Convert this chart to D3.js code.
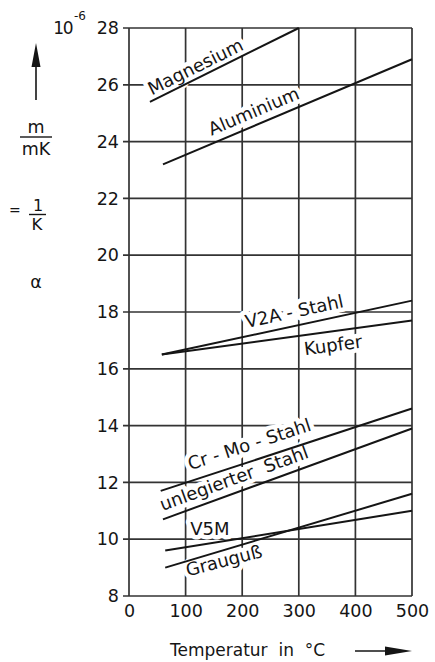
<!DOCTYPE html>
<html>
<head>
<meta charset="utf-8">
<script src="https://cdn.jsdelivr.net/npm/d3@7"></script>
<style>
  html, body { margin: 0; padding: 0; background: #fff; }
  svg { display: block; font-family: "DejaVu Sans", sans-serif; }
</style>
</head>
<body>
<svg id="chart" width="435" height="662"></svg>
<script>
// Linear expansion coefficient α (10^-6 1/K) versus temperature (°C)
const materials  = ["Magnesium", "Aluminium", "V2A - Stahl", "Kupfer", "Cr - Mo - Stahl", "unlegierter  Stahl", "V5M", "Grauguß"];
const tempStart  = [37, 60, 58, 58, 56, 60, 64, 64];
const tempEnd    = [300, 500, 500, 500, 500, 500, 500, 500];
const alphaStart = [25.4, 23.2, 16.5, 16.5, 11.7, 10.7, 9.6, 9.0];
const alphaEnd   = [28.0, 26.9, 18.4, 17.7, 14.6, 13.9, 11.0, 11.6];

const xTicks = [0, 100, 200, 300, 400, 500];
const yTicks = [8, 10, 12, 14, 16, 18, 20, 22, 24, 26, 28];

// label placement along each curve: temperature of anchor, perpendicular offset (px), angle override
const labelPlacement = [
  { t: 44,  off: -5 },
  { t: 151, off: -7.5 },
  { t: 211, off: -8 },
  { t: 306, off: 20 },
  { t: 114, off: -10.5 },
  { t: 64,  off: -8 },
  { t: 108, off: -12, angle: 0 },
  { t: 97,  off: 15, dAngle: 2 }
];

const svg = d3.select("#chart");
const ink = "#151515";
const gridInk = "#333333";

const x = d3.scaleLinear().domain([0, 500]).range([129, 412]);
const y = d3.scaleLinear().domain([8, 28]).range([596, 28]);

// grid
const grid = svg.append("g");
grid.selectAll("line.v").data(xTicks).join("line")
  .attr("x1", d => x(d)).attr("x2", d => x(d))
  .attr("y1", y(28)).attr("y2", y(8))
  .attr("stroke", gridInk).attr("stroke-width", 1.7);
grid.selectAll("line.h").data(yTicks).join("line")
  .attr("x1", x(0) - 6).attr("x2", x(500))
  .attr("y1", d => y(d)).attr("y2", d => y(d))
  .attr("stroke", gridInk).attr("stroke-width", 1.7);

// axes (labels only)
const yAxis = svg.append("g")
  .attr("transform", `translate(${x(0)},0)`)
  .call(d3.axisLeft(y).tickValues(yTicks).tickSize(0).tickPadding(10).tickFormat(d3.format("d")));
const xAxis = svg.append("g")
  .attr("transform", `translate(0,${y(8)})`)
  .call(d3.axisBottom(x).tickValues(xTicks).tickSize(0).tickPadding(9).tickFormat(d3.format("d")));
[yAxis, xAxis].forEach(a => {
  a.select(".domain").remove();
  a.selectAll("text").attr("font-size", 17.5).attr("fill", ink)
    .attr("font-family", "DejaVu Sans, sans-serif");
});

// series
const series = materials.map((name, i) => ({
  name,
  pts: [[tempStart[i], alphaStart[i]], [tempEnd[i], alphaEnd[i]]],
  place: labelPlacement[i]
}));

function labelGeom(s) {
  const [p0, p1] = s.pts;
  const x0 = x(p0[0]), y0 = y(p0[1]), x1 = x(p1[0]), y1 = y(p1[1]);
  let ang = Math.atan2(y1 - y0, x1 - x0) * 180 / Math.PI;
  if (s.place.angle !== undefined) ang = s.place.angle;
  if (s.place.dAngle) ang += s.place.dAngle;
  const f = (s.place.t - p0[0]) / (p1[0] - p0[0]);
  const vx = p0[0] + f * (p1[0] - p0[0]);
  const va = p0[1] + f * (p1[1] - p0[1]);
  return { px: x(vx), py: y(va), ang };
}

const labels = svg.append("g");
// white knock-out behind labels
labels.selectAll("text.halo").data(series).join("text")
  .attr("class", "halo")
  .attr("transform", d => { const g = labelGeom(d); return `translate(${g.px},${g.py}) rotate(${g.ang})`; })
  .attr("y", d => d.place.off)
  .attr("font-size", 18)
  .style("white-space", "pre")
  .attr("fill", "#fff").attr("stroke", "#fff").attr("stroke-width", 9).attr("stroke-linejoin", "round")
  .text(d => d.name);

const line = d3.line().x(d => x(d[0])).y(d => y(d[1]));
svg.append("g").selectAll("path").data(series).join("path")
  .attr("d", d => line(d.pts))
  .attr("fill", "none").attr("stroke", ink).attr("stroke-width", 2);

labels.selectAll("text.lab").data(series).join("text")
  .attr("class", "lab")
  .attr("transform", d => { const g = labelGeom(d); return `translate(${g.px},${g.py}) rotate(${g.ang})`; })
  .attr("y", d => d.place.off)
  .attr("font-size", 18)
  .style("white-space", "pre")
  .attr("fill", ink)
  .text(d => d.name);

// y-axis annotation: 10^-6, arrow, unit and symbol
const ann = svg.append("g").attr("fill", ink);
ann.append("text").attr("x", 72).attr("y", 34).attr("text-anchor", "end")
  .attr("font-size", 17).attr("letter-spacing", -1.5).text("10");
ann.append("text").attr("x", 74).attr("y", 20).attr("font-size", 12).text("-6");

ann.append("line").attr("x1", 36).attr("x2", 36).attr("y1", 100).attr("y2", 62)
  .attr("stroke", ink).attr("stroke-width", 1.6);
ann.append("path").attr("d", "M31.5,67 L40.5,67 L36,43 Z");

ann.append("text").attr("x", 36).attr("y", 133).attr("text-anchor", "middle").attr("font-size", 17.5).text("m");
ann.append("line").attr("x1", 20).attr("x2", 52).attr("y1", 137).attr("y2", 137)
  .attr("stroke", ink).attr("stroke-width", 1.4);
ann.append("text").attr("x", 36).attr("y", 155).attr("text-anchor", "middle").attr("font-size", 17.5).text("mK");

ann.append("text").attr("x", 9).attr("y", 215).attr("font-size", 14).text("=");
ann.append("text").attr("x", 38).attr("y", 211).attr("text-anchor", "middle").attr("font-size", 16).text("1");
ann.append("line").attr("x1", 29).attr("x2", 46).attr("y1", 214.5).attr("y2", 214.5)
  .attr("stroke", ink).attr("stroke-width", 1.4);
ann.append("text").attr("x", 37).attr("y", 230).attr("text-anchor", "middle").attr("font-size", 16.5).text("K");

ann.append("text").attr("x", 36).attr("y", 288).attr("text-anchor", "middle").attr("font-size", 17.5).text("α");

// x-axis title with arrow
ann.append("text").attr("x", 170).attr("y", 656).attr("font-size", 17)
  .style("white-space", "pre").text("Temperatur  in  °C");
ann.append("line").attr("x1", 355).attr("x2", 390).attr("y1", 651).attr("y2", 651)
  .attr("stroke", ink).attr("stroke-width", 1.6);
ann.append("path").attr("d", "M385,646.5 L385,655.5 L412,651 Z");
</script>
</body>
</html>
